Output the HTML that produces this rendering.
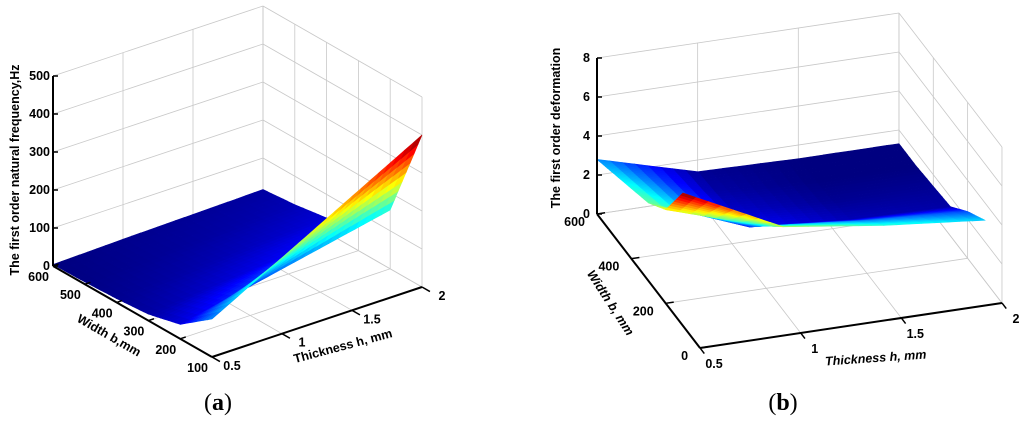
<!DOCTYPE html>
<html><head><meta charset="utf-8"><style>
html,body{margin:0;padding:0;background:#fff;}
svg{display:block;font-family:"Liberation Sans",Arial,sans-serif;}
</style></head><body>
<svg id="fig" width="1024" height="422" viewBox="0 0 1024 422">
<g id="pa"></g>
<g id="pb"></g>
<text x="218" y="410" text-anchor="middle" font-family="Liberation Serif,serif" font-size="24">(<tspan font-weight="bold">a</tspan>)</text>
<text x="783" y="410" text-anchor="middle" font-family="Liberation Serif,serif" font-size="24">(<tspan font-weight="bold">b</tspan>)</text>
</svg>
<script>
// Panel (a) data
const hA = [0.5, 1, 1.5, 2];
const bA = [100, 200, 300, 400, 500, 600];
const freqA = [
  [100, 200, 300, 400],
  [38, 77, 116, 155],
  [17, 34, 51, 68],
  [10, 19, 29, 38],
  [6, 12, 18, 25],
  [4, 9, 13, 17]
];
const zTicksA = [0, 100, 200, 300, 400, 500];
const bTicksA = [100, 200, 300, 400, 500, 600];
const hTicksA = [0.5, 1, 1.5, 2];
// Panel (b) data
const hB = [0.5, 1, 1.5, 2];
const bB = [100, 200, 300, 400, 500, 600];
const defB = [
  [6.8, 4.3, 3.6, 3.1],
  [4.8, 3.2, 2.7, 2.4],
  [4.0, 2.0, 1.6, 1.5],
  [3.6, 1.7, 1.4, 1.4],
  [3.2, 1.5, 1.3, 1.3],
  [2.8, 1.4, 1.3, 1.3]
];
const zTicksB = [0, 2, 4, 6, 8];
const bTicksB = [0, 200, 400, 600];
const hTicksB = [0.5, 1, 1.5, 2];

const NS = 'http://www.w3.org/2000/svg';
function mk(parent, tag, attrs, txt) {
  const e = document.createElementNS(NS, tag);
  for (const k in attrs) e.setAttribute(k, attrs[k]);
  if (txt !== undefined) e.textContent = txt;
  parent.appendChild(e);
  return e;
}
function jet(t) {
  t = Math.max(0, Math.min(1, t));
  const r = Math.max(0, Math.min(1, 1.5 - Math.abs(4 * t - 3)));
  const g = Math.max(0, Math.min(1, 1.5 - Math.abs(4 * t - 2)));
  const b = Math.max(0, Math.min(1, 1.5 - Math.abs(4 * t - 1)));
  return 'rgb(' + Math.round(r * 255) + ',' + Math.round(g * 255) + ',' + Math.round(b * 255) + ')';
}

function drawPanel(g, cfg, hs, bs, Z, zT, bT, hT) {
  const P = (h, b, z) => [
    cfg.X0 + (h - cfg.h0) * cfg.hx + (b - cfg.b0) * cfg.bx,
    cfg.Y0 + (h - cfg.h0) * cfg.hy + (b - cfg.b0) * cfg.by - z * cfg.zs
  ];
  const hMin = cfg.h0, hMax = cfg.hMax, bMax = cfg.b0, bMin = cfg.bMin, zMax = zT[zT.length - 1];
  const grid = mk(g, 'g', {stroke: '#c8c8c8', 'stroke-width': 0.8, fill: 'none'});
  
  
  const line = (a, b2) => mk(grid, 'line', {x1: a[0], y1: a[1], x2: b2[0], y2: b2[1]});
  zT.forEach(z => { line(P(hMin, bMax, z), P(hMax, bMax, z)); line(P(hMax, bMax, z), P(hMax, bMin, z)); });
  hT.forEach(h => { line(P(h, bMax, 0), P(h, bMax, zMax)); line(P(h, bMax, 0), P(h, bMin, 0)); });
  bT.forEach(b => { line(P(hMax, b, 0), P(hMax, b, zMax)); line(P(hMin, b, 0), P(hMax, b, 0)); });
  const surf = mk(g, 'g', {});
  
  
  let zmin = Infinity, zmax = -Infinity;
  Z.forEach(r => r.forEach(v => { zmin = Math.min(zmin, v); zmax = Math.max(zmax, v); }));
  const polys = [];
  const N = 8;
  for (let i = 0; i < bs.length - 1; i++) for (let j = 0; j < hs.length - 1; j++) {
    for (let u = 0; u < N; u++) for (let v = 0; v < N; v++) {
      const pts = [[u, v], [u + 1, v], [u + 1, v + 1], [u, v + 1]].map(([a, c]) => {
        const fu = a / N, fv = c / N;
        const b = bs[i] + (bs[i + 1] - bs[i]) * fu;
        const h = hs[j] + (hs[j + 1] - hs[j]) * fv;
        const z = Z[i][j] * (1 - fu) * (1 - fv) + Z[i + 1][j] * fu * (1 - fv) + Z[i][j + 1] * (1 - fu) * fv + Z[i + 1][j + 1] * fu * fv;
        return {b, h, z};
      });
      const zc = pts.reduce((s, p) => s + p.z, 0) / 4;
      const bc = pts.reduce((s, p) => s + p.b, 0) / 4, hc = pts.reduce((s, p) => s + p.h, 0) / 4;
      const depth = (bc - bMin) / (bMax - bMin) + (hc - hMin) / (hMax - hMin);
      polys.push({pts, zc, depth});
    }
  }
  polys.sort((a, b) => b.depth - a.depth);
  polys.forEach(p => {
    const col = jet((p.zc - zmin) / (zmax - zmin));
    const s = p.pts.map(q => P(q.h, q.b, q.z).map(n => n.toFixed(1)).join(',')).join(' ');
    const el = mk(surf, 'polygon', {points: s, fill: col, stroke: col, 'stroke-width': 0.6});
    
    
  });
  const ax = mk(g, 'g', {stroke: '#000', 'stroke-width': 2, fill: 'none'});
  
  
  const aline = (a, b2, nm) => { const e = mk(ax, 'line', {x1: a[0], y1: a[1], x2: b2[0], y2: b2[1]});   };
  aline(P(hMin, bMax, 0), P(hMin, bMax, zMax), 'z-axis');
  aline(P(hMin, bMax, 0), P(hMin, bMin, 0), 'b-axis');
  aline(P(hMin, bMin, 0), P(hMax, bMin, 0), 'h-axis');
  const tl = mk(g, 'g', {'font-size': 12.5, 'font-weight': 'bold', fill: '#000'});
  
  
  zT.forEach(z => {
    const p = P(hMin, bMax, z);
    mk(ax, 'line', {x1: p[0], y1: p[1], x2: p[0] + 5, y2: p[1], 'stroke-width': 1.5});
    const t = mk(tl, 'text', {x: p[0] - cfg.zOff, y: p[1] + 4, 'text-anchor': 'end'}, String(z));
    
    
  });
  bT.forEach(b => {
    const p = P(hMin, b, 0);
    mk(ax, 'line', {x1: p[0], y1: p[1], x2: p[0] + cfg.hx * 0.04, y2: p[1] + cfg.hy * 0.04, 'stroke-width': 1.5});
    const t = mk(tl, 'text', {x: p[0] + cfg.bOff[0], y: p[1] + cfg.bOff[1], 'text-anchor': 'end'}, String(b));
    
    
  });
  hT.forEach(h => {
    const p = P(h, bMin, 0);
    mk(ax, 'line', {x1: p[0], y1: p[1], x2: p[0] - cfg.bx * 25, y2: p[1] - cfg.by * 25, 'stroke-width': 1.5});
    const t = mk(tl, 'text', {x: p[0] + cfg.hOff[0], y: p[1] + cfg.hOff[1], 'text-anchor': 'middle'}, String(h));
    
    
  });
}

drawPanel(document.getElementById('pa'),
  {X0: 53, Y0: 266, h0: 0.5, hMax: 2, b0: 600, bMin: 100, hx: 140, hy: -46.67, bx: -0.318, by: -0.182, zs: 0.38, bOff: [-4, 15], hOff: [20, 13], zOff: 3},
  hA, bA, freqA, zTicksA, bTicksA, hTicksA);
drawPanel(document.getElementById('pb'),
  {X0: 597, Y0: 214, h0: 0.5, hMax: 2, b0: 600, bMin: 0, hx: 201.3, hy: -30, bx: -0.1717, by: -0.2233, zs: 19.5, bOff: [-12, 12], hOff: [14, 20], zOff: 7},
  hB, bB, defB, zTicksB, bTicksB, hTicksB);
</script>
<svg style="position:absolute;left:0;top:0" width="1024" height="422">
<g font-family="Liberation Sans,Arial,sans-serif" font-weight="bold" font-size="12.5" fill="#000">
<text transform="translate(19,170) rotate(-90)" text-anchor="middle">The first order natural frequency,Hz</text>
<text transform="translate(107,339) rotate(30)" text-anchor="middle">Width b,mm</text>
<text transform="translate(344,350) rotate(-15)" text-anchor="middle">Thickness h, mm</text>
<text transform="translate(560,128) rotate(-90)" text-anchor="middle">The first order deformation</text>
<text transform="translate(607,305) rotate(57)" text-anchor="middle" font-style="italic">Width b, mm</text>
<text transform="translate(876,362) rotate(-4)" text-anchor="middle" font-style="italic">Thickness h, mm</text>
</g></svg>
</body></html>
